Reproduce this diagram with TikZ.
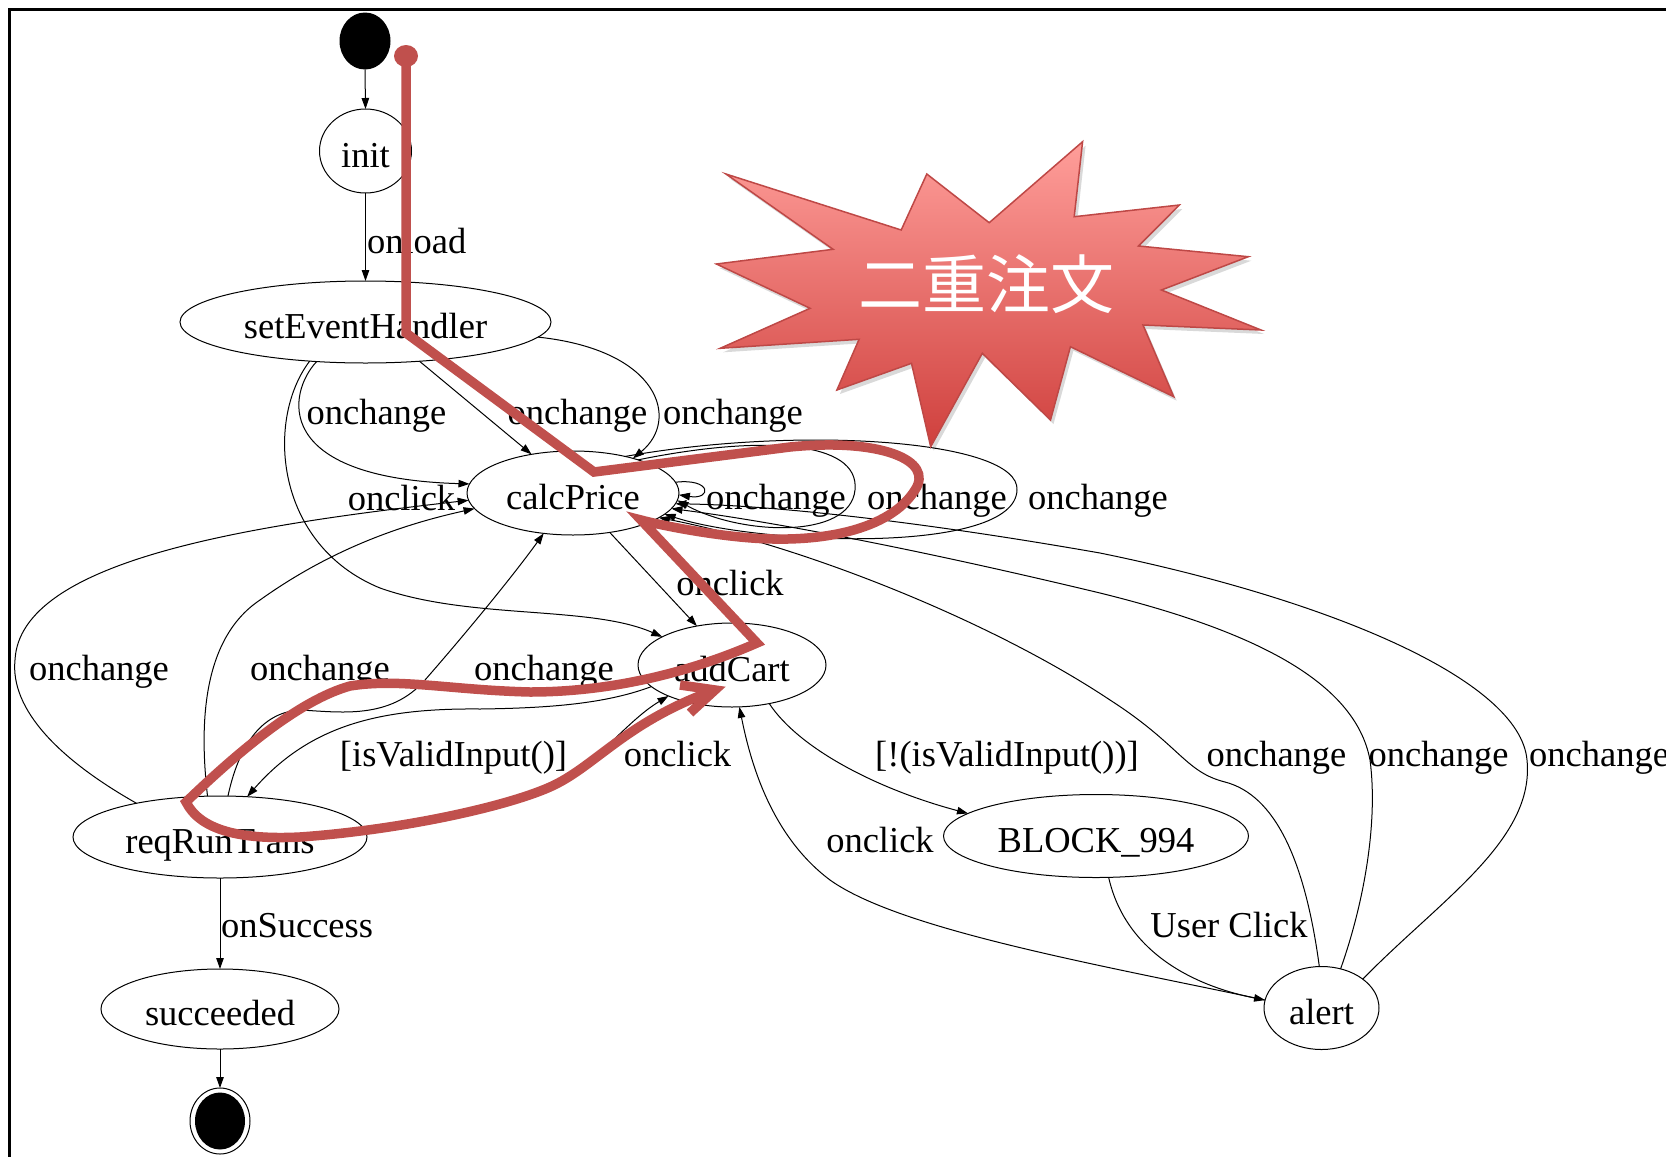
\documentclass[tikz,border=0pt]{standalone}
\usepackage{fontspec}
\setmainfont{Liberation Serif}
\newfontfamily\cjkfont{Noto Sans CJK JP}
\usetikzlibrary{arrows.meta,shapes.geometric}
\definecolor{markred}{RGB}{192,80,77}
\definecolor{burstTop}{RGB}{255,158,154}
\definecolor{burstBot}{RGB}{207,64,61}
\definecolor{burstEdge}{RGB}{190,72,70}

\begin{document}
\begin{tikzpicture}[x=1pt,y=-1pt,
  every node/.style={inner sep=0pt, outer sep=0pt},
  stnode/.style={ellipse, draw, line width=1pt, font=\fontsize{36.5}{40}\selectfont,
                 text height=37pt, text depth=4pt},
  lbl/.style={anchor=base, font=\fontsize{36.5}{40}\selectfont},
  conn/.style={line width=1pt, -{Triangle[length=11pt,width=7.5pt]}},
  trail/.style={draw=markred, line width=9.5pt, line join=miter}
]
\useasboundingbox (0,0) rectangle (1666,1157);
\fill[white] (0,0) rectangle (1666,1157);

% frame
\draw[line width=3pt] (9,1170) -- (9,9.5) -- (1680,9.5);

% states
\node[ellipse, fill=black, minimum width=51pt, minimum height=57pt] (start) at (365,41) {};
\node[stnode, minimum width=92pt,  minimum height=84pt] (init)  at (365.5,151) {init};
\node[stnode, minimum width=371pt, minimum height=82pt] (seh)   at (365.5,322) {setEventHandler};
\node[stnode, minimum width=212pt, minimum height=84pt] (calc)  at (573,493)   {calcPrice};
\node[stnode, minimum width=188pt, minimum height=84pt] (cart)  at (732,665)   {addCart};
\node[stnode, minimum width=294pt, minimum height=82pt] (req)   at (220,837)   {reqRunTrans};
\node[stnode, minimum width=305pt, minimum height=83pt] (block) at (1096,836)  {BLOCK\_994};
\node[stnode, minimum width=238pt, minimum height=80pt] (succ)  at (220,1009)  {succeeded};
\node[stnode, minimum width=115pt, minimum height=83pt] (alert) at (1321.5,1008) {alert};
\node[ellipse, draw, line width=1pt, minimum width=60pt, minimum height=66pt] (fin) at (220,1121) {};
\fill (fin.center) ellipse [x radius=25pt, y radius=28.5pt];

% transitions
\draw[conn] (start.south) -- (init.north);
\draw[conn] (init.south) -- (seh.north);
\draw[conn] (seh.219.5) .. controls (288,392) and (270,478) .. (calc.175.6);
\draw[conn] (seh.324.7) -- (calc.137.2);
\draw[conn] (seh.-5.3) .. controls (660,350) and (680,420) .. (calc.30.3);
\draw[conn] (seh.215.8) .. controls (265,420) and (275,545) .. (380,588)
            .. controls (470,620) and (590,605) .. (cart.158);
\draw[conn] (calc.-47.2) -- (cart.132.6);
% self loops on calcPrice
\draw[conn] (calc.6) .. controls (712,478) and (712,500) .. (calc.-1);
\draw[conn] (calc.27.6) .. controls (760,435) and (860,440) .. (855,490)
            .. controls (850,540) and (740,535) .. (calc.-4);
\draw[conn] (calc.35) .. controls (800,425) and (1020,440) .. (1017,490)
            .. controls (1015,555) and (760,545) .. (calc.-13);
% alert -> calcPrice
\draw[conn] (alert.35) .. controls (1440,900) and (1535,840) .. (1527,760)
            .. controls (1520,680) and (1330,600) .. (1100,553)
            .. controls (900,518) and (760,505) .. (calc.-6);
\draw[conn] (alert.64.5) .. controls (1365,900) and (1378,820) .. (1370,760)
            .. controls (1355,680) and (1250,630) .. (1100,593)
            .. controls (900,545) and (760,520) .. (calc.-9);
\draw[conn] (alert.93.4) .. controls (1305,860) and (1275,795) .. (1225,782)
            .. controls (1185,772) and (1180,745) .. (1110,700)
            .. controls (990,620) and (800,545) .. (calc.-16);
% alert -> addCart
\draw[conn] (alert.172) .. controls (1100,965) and (900,930) .. (830,880)
            .. controls (770,835) and (750,760) .. (cart.280.8);
% addCart -> BLOCK_994 -> alert
\draw[conn] (cart.-46.5) .. controls (800,750) and (880,790) .. (block.170);
\draw[conn] (block.287.2) .. controls (1125,950) and (1190,985) .. (alert.172);
% reqRunTrans -> calcPrice
\draw[conn] (req.158) .. controls (60,760) and (10,710) .. (15,660)
            .. controls (20,560) and (250,525) .. (calc.184.9);
\draw[conn] (req.107.2) .. controls (200,730) and (200,640) .. (260,600)
            .. controls (330,550) and (400,525) .. (calc.189.6);
\draw[conn] (req.79.5) .. controls (240,740) and (265,712) .. (300,710)
            .. controls (340,712) and (390,720) .. (425,680)
            .. controls (460,640) and (510,580) .. (calc.234.5);
% addCart <-> reqRunTrans
\draw[conn] (cart.195.8) .. controls (610,702) and (560,708) .. (480,709)
            .. controls (380,708) and (310,725) .. (req.56.6);
\draw[conn] (req.3) .. controls (450,822) and (505,807) .. (550,787)
            .. controls (595,767) and (625,722) .. (cart.206);
\draw[conn] (req.south) -- (succ.north);
\draw[conn] (succ.south) -- (fin.north);

% transition labels
\node[lbl, anchor=base west] (lonload) at (367,253) {onload};
\node[lbl] (l1)  at (376.5,424) {onchange};
\node[lbl] (l2)  at (577.5,424) {onchange};
\node[lbl] (l3)  at (733,424)   {onchange};
\node[lbl] (l4)  at (401.5,510) {onclick};
\node[lbl] (l5)  at (776,509)   {onchange};
\node[lbl] (l6)  at (937,509)   {onchange};
\node[lbl] (l7)  at (1098,509)  {onchange};
\node[lbl] (l8)  at (730,595)   {onclick};
\node[lbl] (l9)  at (99,680)    {onchange};
\node[lbl] (l10) at (320,680)   {onchange};
\node[lbl] (l11) at (544,680)   {onchange};
\node[lbl] (l12) at (453.5,766) {[isValidInput()]};
\node[lbl] (l13) at (677.5,766) {onclick};
\node[lbl] (l14) at (1007,766)  {[!(isValidInput())]};
\node[lbl] (l15) at (1276.5,766) {onchange};
\node[lbl] (l16) at (1438.5,766) {onchange};
\node[lbl] (l17) at (1599,766)  {onchange};
\node[lbl] (l18) at (880,852)   {onclick};
\node[lbl] (l19) at (1229,937)  {User Click};
\node[lbl, anchor=base west] (l20) at (221,937) {onSuccess};

% explosion callout
\def\burst{(725.9,174) -- (901.2,230) -- (926.8,174) -- (989.2,222.7) -- (1082.6,141.7)
  -- (1074.2,216.7) -- (1179.4,205) -- (1138.5,246) -- (1248.3,256.7) -- (1161.4,290)
  -- (1261,330) -- (1143,325) -- (1173.7,396.7) -- (1070.4,346.7) -- (1050.5,420)
  -- (982.3,353.3) -- (930.7,446.7) -- (911.5,363.3) -- (836.9,390) -- (859.1,339.3)
  -- (720.2,348.3) -- (810.1,308.3) -- (716.4,264) -- (833.1,249.3) -- cycle}
\fill[black, opacity=0.15, shift={(3,4)}] \burst;
\shadedraw[top color=burstTop, bottom color=burstBot, draw=burstEdge, line width=1.5pt] \burst;
\node[text=white, font=\cjkfont\fontsize{64}{70}\selectfont] (burstlabel) at (986,284) {二重注文};

% highlighted route
\draw[trail] (406,56) -- (406,333) -- (594,472) -- (790,447)
  .. controls (880,438) and (935,460) .. (915,490)
  .. controls (890,530) and (820,545) .. (740,537)
  .. controls (700,533) and (660,525) .. (641,520) -- (757,643)
  .. controls (700,668) and (620,692) .. (530,692)
  .. controls (450,690) and (400,678) .. (350,686)
  .. controls (300,700) and (240,750) .. (186,802)
  .. controls (200,830) and (240,840) .. (300,837)
  .. controls (400,830) and (505,807) .. (550,787)
  .. controls (595,767) and (625,722) .. (715,690);
\draw[trail] (680,685) -- (715,690) -- (690,713);
\fill[markred] (406,56) ellipse [x radius=12pt, y radius=11pt];
\end{tikzpicture}
\end{document}
